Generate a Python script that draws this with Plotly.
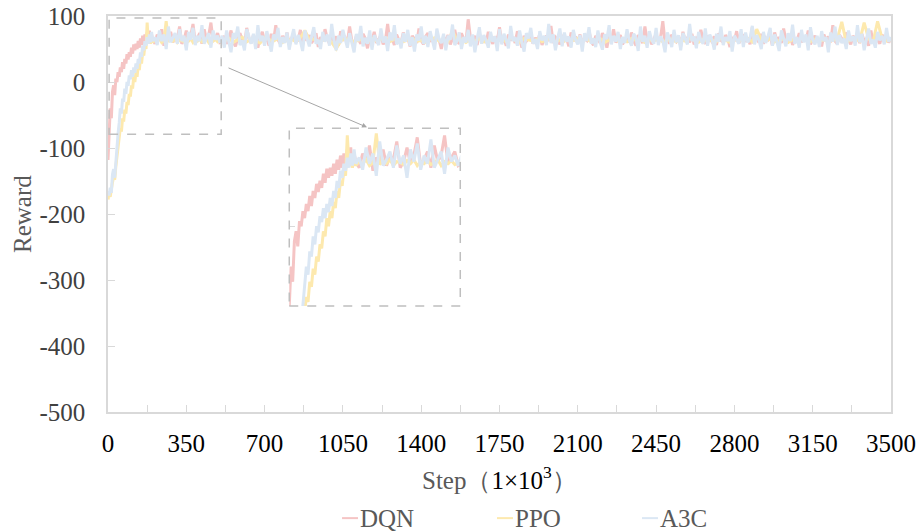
import plotly.graph_objects as go

# ---------------- data ----------------
steps_fine = list(range(0, 205, 5)) + list(range(210, 3510, 10))
steps_ppo = list(range(0, 205, 5)) + list(range(210, 510, 10)) + list(range(520, 3520, 20))

dqn = [
    -118, -75, -40, -55, -15, -5, -20, 5, 0, 15, 8, 22, 15, 30, 20, 35, 28, 42, 34, 45,
    38, 52, 43, 57, 48, 58, 50, 62, 52, 66, 56, 70, 58, 72, 62, 76, 60, 78, 58, 72, 64,
    58, 72, 64, 80, 55, 68, 62, 76, 60, 70, 66, 84, 58, 64, 78, 62, 70, 88, 60, 66,
    74, 58, 80, 64, 70, 90, 62, 68, 74, 60,
    62, 70, 58, 66, 78, 60, 54, 68, 74, 63, 57, 82, 66, 59, 71, 64, 52, 69, 76, 61,
    67, 55, 73, 62, 86, 64, 58, 70, 61, 75, 56, 66, 72, 60, 64, 79, 57, 68, 63, 71,
    59, 65, 74, 53, 68, 62, 80, 66, 58, 72, 61, 69, 55, 77, 63, 67, 60, 84, 62, 57,
    70, 64, 58, 73, 66, 51, 69, 62, 76, 59, 65, 71, 57, 63, 88, 61, 67, 56, 72, 64,
    60, 75, 62, 68, 54, 70, 65, 59, 81, 63, 57, 69, 74, 61, 66, 58, 72, 64, 50, 68,
    63, 71, 57, 66, 79, 62, 58, 74, 65, 60, 95, 67, 61, 70, 56, 73, 63, 68, 59, 76,
    64, 58, 69, 62, 83, 60, 66, 55, 72, 63, 68, 59, 77, 64, 52, 70, 62, 66, 74, 58,
    67, 61, 73, 56, 65, 70, 62, 85, 59, 68, 64, 57, 71, 63, 66, 54, 75, 62, 69, 60,
    72, 58, 66, 63, 78, 61, 56, 70, 64, 59, 74, 67, 52, 69, 62, 80, 60, 65, 71, 57,
    64, 68, 60, 75, 62, 55, 71, 66, 59, 84, 63, 69, 57, 65, 73, 61, 67, 92, 60, 66,
    58, 72, 64, 61, 69, 54, 76, 63, 67, 60, 73, 57, 66, 62, 79, 64, 58, 70, 65, 61,
    69, 56, 74, 63, 60, 71, 66, 53, 68, 62, 77, 59, 65, 72, 61, 67, 57, 83, 63, 66,
    60, 73, 58, 67, 64, 70, 55, 75, 62, 68, 59, 81, 64, 61, 71, 56, 66, 63, 74, 60,
    67, 62, 78, 57, 65, 70, 61, 66, 54, 72, 63, 69, 60, 86, 62, 58, 71, 65, 60, 75,
    63, 57, 70, 64, 68, 59, 73, 62, 66, 55, 78, 61, 67, 64, 58, 72, 63, 69, 60, 66,
]

ppo = [
    -178, -170, -174, -160, -152, -145, -148, -128, -112, -98, -85, -70, -75, -55, -60,
    -42, -48, -30, -35, -18, -22, -5, -10, 8, 0, 15, 8, 24, 18, 35, 28, 45, 40, 55, 50,
    90, 62, 70, 58, 66, 60,
    64, 62, 66, 60, 63, 92, 61, 65, 62, 66, 60, 64, 63, 61, 65, 62, 66, 60, 64, 62,
    65, 61, 63, 66, 60, 64, 62, 65, 61, 63,
    62, 66, 60, 64, 68, 61, 65, 63, 59, 67, 64, 62, 66, 60, 63, 65, 61, 67, 78, 64,
    65, 61, 63, 67, 60, 50, 62, 66, 64, 61, 63, 65, 60, 66, 62, 64, 67, 61, 65, 63,
    61, 64, 66, 62, 63, 60, 65, 67, 62, 64, 61, 78, 63, 65, 60, 64, 62, 66, 61, 63,
    64, 62, 65, 61, 67, 63, 60, 66, 64, 62, 65, 61, 63, 67, 60, 64, 62, 65, 63, 66,
    62, 65, 61, 64, 66, 60, 63, 67, 62, 64, 61, 66, 63, 65, 60, 64, 62, 66, 61, 63,
    65, 61, 64, 62, 66, 63, 60, 65, 62, 64, 61, 67, 63, 60, 65, 62, 64, 66, 61, 80,
    64, 62, 66, 61, 63, 65, 60, 64, 62, 66, 63, 61, 65, 62, 64, 61, 63, 65, 91, 60,
    64, 66, 62, 90, 65, 61, 92, 66, 62, 64,
]

a3c = [
    -165, -172, -160, -168, -140, -132, -145, -118, -100, -78, -62, -40, -48, -25, -30,
    -10, -18, 0, -6, 10, 4, 18, 8, 22, 14, 28, 20, 35, 28, 45, 38, 55, 48, 62, 55, 68,
    58, 72, 60, 76, 62,
    68, 56, 78, 62, 72, 50, 84, 60, 66, 74, 58, 80, 62, 70, 48, 76, 64, 82, 56, 70,
    62, 86, 58, 66, 74, 52, 78, 64, 70, 60,
    70, 52, 78, 61, 45, 74, 66, 84, 56, 63, 48, 80, 68, 58, 73, 50, 86, 62, 70, 55,
    77, 60, 46, 72, 64, 82, 53, 68, 59, 75, 49, 66, 80, 57, 71, 62, 47, 78, 65, 54,
    69, 83, 58, 64, 50, 76, 61, 72, 55, 88, 63, 48, 70, 59, 79, 66, 52, 74, 60, 45,
    73, 62, 85, 54, 67, 58, 78, 49, 71, 64, 56, 81, 60, 69, 47, 75, 63, 86, 57, 66,
    51, 74, 61, 79, 55, 68, 46, 72, 63, 84, 58, 70, 53, 77, 62, 49, 81, 65, 59, 73,
    48, 70, 64, 87, 56, 62, 75, 50, 68, 60, 79, 54, 72, 45, 66, 83, 58, 71, 63, 52,
    76, 61, 69, 47, 80, 57, 73, 64, 51, 85, 62, 68, 55, 78, 60, 46, 74, 66, 82, 58,
    65, 50, 77, 63, 70, 56, 88, 59, 72, 48, 67, 81, 54, 75, 61, 69, 52, 79, 64, 57,
    71, 46, 74, 62, 83, 58, 66, 53, 78, 60, 49, 72, 65, 86, 57, 70, 61, 76, 50, 68,
    59, 80, 63, 55, 73, 67, 47, 84, 61, 70, 52, 77, 64, 58, 82, 56, 69, 62, 45, 75,
    66, 53, 79, 60, 71, 48, 74, 65, 57, 88, 62, 69, 51, 76, 63, 58, 81, 55, 72, 64,
    49, 73, 61, 84, 56, 68, 62, 77, 46, 70, 64, 58, 80, 53, 75, 60, 67, 85, 57, 71,
    63, 50, 76, 59, 69, 82, 55, 72, 61, 47, 78, 66, 54, 74, 62, 87, 58, 68, 52, 79,
    60, 72, 48, 83, 64, 57, 70, 53, 77, 62, 68, 45, 75, 61, 84, 56, 71, 59, 66, 50,
    78, 62, 69, 55, 86, 60, 73, 48, 67, 81, 58, 64, 52, 76, 63, 70, 57, 82, 61, 68,
]

series_names = ["DQN", "PPO", "A3C"]
x_ticks = [0, 350, 700, 1050, 1400, 1750, 2100, 2450, 2800, 3150, 3500]
y_ticks = [100, 0, -100, -200, -300, -400, -500]
y_ticktext = ["100", "0", "-100", "-200", "-300", "-400", "-500"]

# ---------------- style ----------------
colors = {"DQN": "#f5c4c4", "PPO": "#fde9ae", "A3C": "#dbe7f4"}
FONT = "Liberation Serif"
AXC = "#d9d9d9"
GRAY_TXT = "#595959"

fig = go.Figure()
series = {"DQN": (steps_fine, dqn), "PPO": (steps_ppo, ppo), "A3C": (steps_fine, a3c)}
for name in series_names:
    xs, ys = series[name]
    for xa, ya in (("x", "y"), ("x2", "y2")):
        fig.add_trace(go.Scatter(
            x=xs, y=ys, mode="lines", name=name,
            line=dict(color=colors[name], width=3),
            xaxis=xa, yaxis=ya, showlegend=False, hoverinfo="skip",
        ))

fig.update_layout(
    width=919, height=531,
    margin=dict(l=108, r=28, t=16, b=119),
    paper_bgcolor="white", plot_bgcolor="white",
    font=dict(family=FONT, size=25, color="black"),
    showlegend=False,
    xaxis=dict(
        range=[0, 3500], tickvals=x_ticks, ticks="inside", ticklen=7, tickcolor=AXC,
        minor=dict(dtick=175, tick0=0, ticks="inside", ticklen=7, tickcolor=AXC),
        showline=True, linecolor=AXC, linewidth=1.5, mirror=True, showgrid=False,
        zeroline=False, tickfont=dict(family=FONT, size=25, color="black"),
        ticklabelstandoff=8, automargin=False,
    ),
    yaxis=dict(
        range=[-500, 100], tickvals=y_ticks, ticktext=y_ticktext, ticks="inside",
        ticklen=7, tickcolor=AXC,
        showline=True, linecolor=AXC, linewidth=1.5, mirror=True, showgrid=False,
        zeroline=False, tickfont=dict(family=FONT, size=25, color="#404040"),
        ticklabelstandoff=16, automargin=False,
    ),
    xaxis2=dict(
        domain=[0.2315, 0.4499], anchor="y2", range=[5, 506], showline=False,
        showgrid=False, zeroline=False, showticklabels=False, ticks="",
        automargin=False,
    ),
    yaxis2=dict(
        domain=[0.2677, 0.7164], anchor="x2", range=[-79, 97], showline=False,
        showgrid=False, zeroline=False, showticklabels=False, tickvals=[0],
        ticks="inside", ticklen=6, tickcolor=AXC, automargin=False,
    ),
)

dash_line = dict(color="#bfbfbf", width=1.5, dash="dash")
fig.add_shape(type="rect", xref="x", yref="y", x0=5, x1=506, y0=-79, y1=97,
              line=dash_line, layer="above")
fig.add_shape(type="rect", xref="x2 domain", yref="y2 domain", x0=0, x1=1, y0=0, y1=1,
              line=dash_line, layer="above")

# arrow from box to inset
fig.add_annotation(x=0.3308, y=0.719, xref="paper", yref="paper", text="",
                   showarrow=True, ax=-140, ay=-60, arrowhead=2, arrowsize=1,
                   arrowwidth=1, arrowcolor="#a6a6a6")

# axis titles
fig.add_annotation(x=-0.1098, y=0.5, xref="paper", yref="paper", text="Reward",
                   textangle=-90, showarrow=False, xanchor="center", yanchor="middle",
                   font=dict(family=FONT, size=25, color=GRAY_TXT))
fig.add_annotation(x=0.5006, y=-0.1674, xref="paper", yref="paper",
                   text="<span style='color:#595959'>Step（</span>1×10<sup>3</sup><span style='color:#595959'>）</span>",
                   showarrow=False, xanchor="center", yanchor="middle",
                   font=dict(family=FONT, size=25, color="black"))

# manual legend
leg_y = -0.268
leg_pos = {"DQN": 0.2989, "PPO": 0.4968, "A3C": 0.682}
for name in series_names:
    x0 = leg_pos[name]
    fig.add_shape(type="line", xref="paper", yref="paper", x0=x0, x1=x0 + 0.0204,
                  y0=leg_y, y1=leg_y, line=dict(color=colors[name], width=2))
    fig.add_annotation(x=x0 + 0.0204, y=leg_y, xref="paper", yref="paper", text=name,
                       xanchor="left", yanchor="middle", showarrow=False,
                       font=dict(family=FONT, size=25, color=GRAY_TXT))

fig.write_html("out.html")
